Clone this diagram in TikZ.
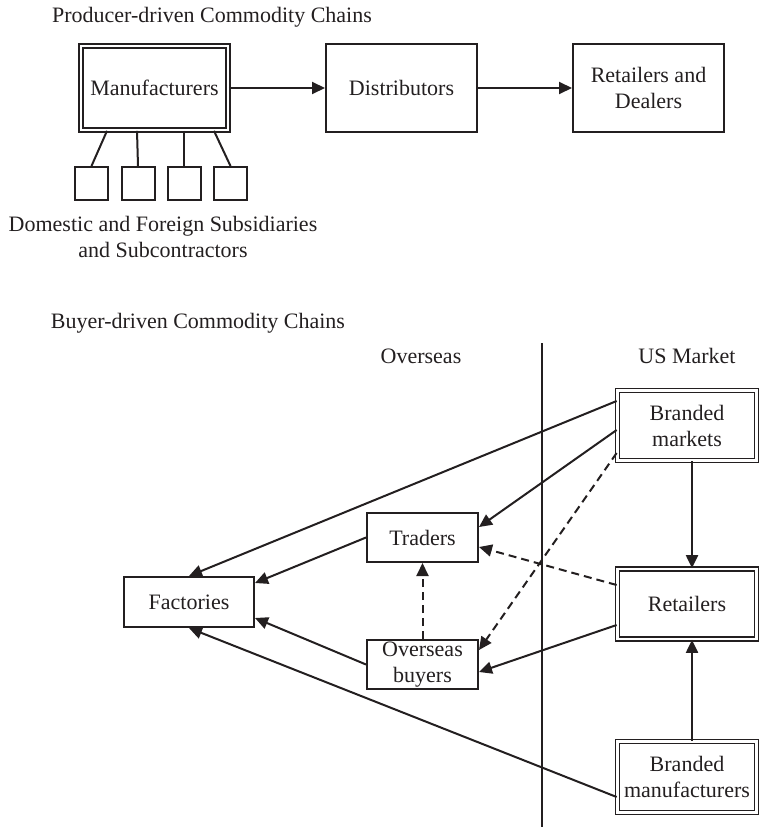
\documentclass[tikz,border=0pt]{standalone}
\usepackage{fontspec}
\setmainfont{Liberation Serif}
\usetikzlibrary{arrows.meta,calc}
\definecolor{ink}{RGB}{35,31,32}
\begin{document}
\begin{tikzpicture}[x=1pt,y=-1pt,
  every node/.style={font=\fontsize{22}{26}\selectfont, text=ink},
  box/.style={draw=ink, line width=2pt, inner sep=0pt, align=center},
  dbox/.style={draw=ink, double, double distance=2.4pt, line width=1.7pt, inner sep=0pt, align=center},
  lbl/.style={inner sep=0pt, align=center},
  link/.style={draw=ink, line width=2pt},
  flow/.style={link, -{Triangle[length=13pt,width=12pt]}},
  dflow/.style={flow, dash pattern=on 8pt off 5pt}]
\useasboundingbox (0,0) rectangle (758,827);

% producer-driven chain
\node[lbl] (ptitle) at (212,17) {Producer-driven Commodity Chains};
\node[dbox, minimum width=147pt, minimum height=84pt] (man) at (154.5,88) {Manufacturers};
\node[box, minimum width=151pt, minimum height=88pt] (dist) at (401.5,88) {Distributors};
\node[box, minimum width=151pt, minimum height=88pt] (ret) at (648.5,88) {Retailers and\\Dealers};
\foreach \i/\x in {1/91.5,2/138,3/184,4/230.5}
  \node[box, minimum width=33pt, minimum height=33pt] (s\i) at (\x,183.5) {};
\node[lbl] (subs) at (163,237) {Domestic and Foreign Subsidiaries\\and Subcontractors};

\draw[flow] (man) -- (dist);
\draw[flow] (dist) -- (ret);
\draw[link] ($(man.south)+(-47.5,0)$) -- (s1.north);
\draw[link] ($(man.south)+(-17.5,0)$) -- (s2.north);
\draw[link] ($(man.south)+(29.5,0)$) -- (s3.north);
\draw[link] ($(man.south)+(59.5,0)$) -- (s4.north);

% buyer-driven chain
\node[lbl] (btitle) at (198,323) {Buyer-driven Commodity Chains};
\node[lbl] (oversea) at (421,356) {Overseas};
\node[lbl] (usm) at (687,356) {US Market};
\coordinate (divtop) at (542,343);
\coordinate (divbot) at (542,827);
\draw[link] (divtop) -- (divbot);

\node[dbox, minimum width=139pt, minimum height=70pt] (bm) at (687,425.5) {Branded\\markets};
\node[dbox, minimum width=139pt, minimum height=70pt] (rtl) at (687,604) {Retailers};
\node[dbox, minimum width=139pt, minimum height=71pt] (bmf) at (687,777) {Branded\\manufacturers};
\node[box, minimum width=111pt, minimum height=49pt] (trd) at (422.5,537.5) {Traders};
\node[box, minimum width=111pt, minimum height=49pt] (ob) at (422.5,664.5) {Overseas\\buyers};
\node[box, minimum width=130pt, minimum height=50pt] (fac) at (189,602) {Factories};

\draw[flow] ($(bm.west)+(0,-24.5)$) -- (fac.north);
\draw[flow] ($(bm.west)+(0,4.5)$) -- ($(trd.east)+(0,-10.5)$);
\draw[dflow] ($(bm.west)+(0,27.5)$) -- ($(ob.east)+(0,-14.5)$);
\draw[dflow] ($(rtl.west)+(0,-19)$) -- ($(trd.east)+(0,9.5)$);
\draw[flow] ($(rtl.west)+(0,21)$) -- ($(ob.east)+(0,7.5)$);
\draw[flow] ($(bmf.west)+(0,20)$) -- (fac.south);
\draw[flow] (trd.west) -- ($(fac.east)+(0,-19)$);
\draw[flow] (ob.west) -- ($(fac.east)+(0,16)$);
\draw[dflow] (ob.north) -- (trd.south);
\draw[flow] ($(bm.south)+(5,0)$) -- ($(rtl.north)+(5,0)$);
\draw[flow] ($(bmf.north)+(5,0)$) -- ($(rtl.south)+(5,0)$);
\end{tikzpicture}
\end{document}
